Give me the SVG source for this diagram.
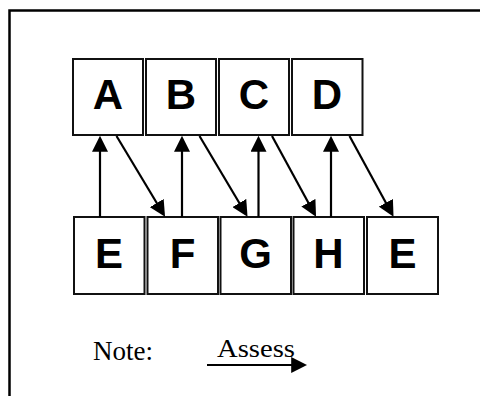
<svg xmlns="http://www.w3.org/2000/svg" width="480" height="396" viewBox="0 0 480 396">
<defs>
<style>
.box{fill:#fff;stroke:#111;stroke-width:2}
.lbl{font-family:"Liberation Sans",Arial,sans-serif;font-weight:bold;font-size:42px;text-anchor:middle;fill:#000}
.con{stroke:#000;stroke-width:2.2;fill:none}
.note{font-family:"Liberation Serif","Times New Roman",serif;fill:#000}
</style>
<marker id="ah" markerUnits="userSpaceOnUse" markerWidth="16" markerHeight="16" refX="12" refY="7.5" orient="auto" viewBox="0 0 15 15">
<path d="M0,0 L15,7.5 L0,15 Z" fill="#000"/>
</marker>
</defs>
<rect x="9.5" y="10.5" width="600" height="500" fill="none" stroke="#000" stroke-width="2.5"/>
<g id="A"><rect class="box" x="73" y="59" width="70" height="76"/><text class="lbl" x="108" y="109">A</text></g>
<g id="B"><rect class="box" x="146" y="59" width="70" height="76"/><text class="lbl" x="181" y="109">B</text></g>
<g id="C"><rect class="box" x="219" y="59" width="70" height="76"/><text class="lbl" x="254" y="109">C</text></g>
<g id="D"><rect class="box" x="292" y="59" width="70.5" height="76"/><text class="lbl" x="327" y="109">D</text></g>
<g id="E1"><rect class="box" x="74" y="217" width="70.5" height="77"/><text class="lbl" x="109" y="268">E</text></g>
<g id="F"><rect class="box" x="147.5" y="217" width="70.5" height="77"/><text class="lbl" x="182.5" y="268">F</text></g>
<g id="G"><rect class="box" x="220.5" y="217" width="70.5" height="77"/><text class="lbl" x="255.5" y="268">G</text></g>
<g id="H"><rect class="box" x="293.5" y="217" width="70.5" height="77"/><text class="lbl" x="328.5" y="268">H</text></g>
<g id="E2"><rect class="box" x="367" y="217" width="71" height="77"/><text class="lbl" x="402.5" y="268">E</text></g>
<g id="connectors">
<line class="con" x1="100" y1="217" x2="100" y2="139" marker-end="url(#ah)"/>
<line class="con" x1="182" y1="217" x2="182" y2="139" marker-end="url(#ah)"/>
<line class="con" x1="258.5" y1="217" x2="258.5" y2="139" marker-end="url(#ah)"/>
<line class="con" x1="331" y1="217" x2="331" y2="139" marker-end="url(#ah)"/>
<line class="con" x1="116.5" y1="136" x2="163.4" y2="214" marker-end="url(#ah)"/>
<line class="con" x1="199.5" y1="136" x2="245.9" y2="214" marker-end="url(#ah)"/>
<line class="con" x1="272" y1="136" x2="314.5" y2="214" marker-end="url(#ah)"/>
<line class="con" x1="349.5" y1="136" x2="392" y2="214" marker-end="url(#ah)"/>
</g>
<g id="legend">
<text class="note" x="93" y="360" font-size="27">Note:</text>
<text class="note" x="217" y="357" font-size="26" textLength="78" lengthAdjust="spacingAndGlyphs">Assess</text>
<line class="con" x1="207" y1="365" x2="304" y2="365" stroke-width="2.5" marker-end="url(#ah)"/>
</g>
</svg>
